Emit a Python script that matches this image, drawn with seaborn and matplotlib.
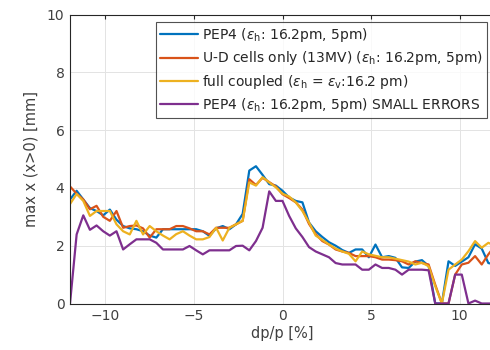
import matplotlib
matplotlib.use("Agg")
import numpy as np
import pandas as pd
import matplotlib.pyplot as plt
import seaborn as sns

# dp/p grid [%]
dpp = [-12 + 0.375 * k for k in range(65)]

pep4 = [3.60, 3.90, 3.60, 3.30, 3.20, 3.05, 3.25, 2.90, 2.68, 2.60,
        2.57, 2.50, 2.35, 2.28, 2.57, 2.57, 2.57, 2.57, 2.57, 2.57,
        2.50, 2.34, 2.60, 2.68, 2.57, 2.74, 3.10, 4.60, 4.75, 4.45,
        4.13, 4.08, 3.90, 3.67, 3.55, 3.50, 2.80, 2.50, 2.30, 2.12,
        2.00, 1.85, 1.75, 1.87, 1.87, 1.60, 2.04, 1.60, 1.64, 1.58,
        1.25, 1.23, 1.45, 1.50, 1.30, 0.00, 0.00, 1.46, 1.30, 1.45,
        1.60, 2.05, 1.90, 1.40, 1.35]

ud_cells = [4.05, 3.80, 3.60, 3.26, 3.38, 3.00, 2.86, 3.20, 2.62, 2.68,
            2.70, 2.60, 2.28, 2.57, 2.57, 2.57, 2.68, 2.68, 2.60, 2.50,
            2.50, 2.39, 2.62, 2.62, 2.62, 2.74, 2.86, 4.30, 4.10, 4.35,
            4.20, 4.05, 3.78, 3.65, 3.50, 3.25, 2.75, 2.40, 2.16, 2.04,
            1.87, 1.80, 1.75, 1.64, 1.64, 1.64, 1.60, 1.52, 1.52, 1.50,
            1.46, 1.35, 1.46, 1.40, 1.35, 0.65, 0.00, 0.00, 1.00, 1.35,
            1.41, 1.64, 1.35, 1.70, 2.00]

full_coupled = [3.44, 3.79, 3.55, 3.03, 3.20, 3.20, 3.20, 2.74, 2.50, 2.39,
                2.86, 2.39, 2.68, 2.50, 2.35, 2.22, 2.40, 2.50, 2.35, 2.22,
                2.22, 2.30, 2.62, 2.18, 2.62, 2.74, 2.86, 4.19, 4.08, 4.37,
                4.19, 4.02, 3.80, 3.70, 3.50, 3.20, 2.80, 2.35, 2.20, 2.04,
                1.90, 1.80, 1.72, 1.46, 1.80, 1.70, 1.65, 1.60, 1.60, 1.55,
                1.50, 1.45, 1.35, 1.41, 1.29, 0.60, 0.00, 1.17, 1.35, 1.52,
                1.81, 2.16, 1.93, 2.10, 2.00]

pep4_small = [0.00, 2.39, 3.05, 2.55, 2.70, 2.50, 2.35, 2.50, 1.87, 2.05,
              2.22, 2.22, 2.22, 2.10, 1.87, 1.87, 1.87, 1.87, 1.99, 1.84,
              1.70, 1.84, 1.84, 1.84, 1.84, 1.99, 2.00, 1.84, 2.16, 2.62,
              3.88, 3.55, 3.55, 3.03, 2.60, 2.30, 1.95, 1.80, 1.70, 1.60,
              1.40, 1.35, 1.35, 1.35, 1.17, 1.17, 1.35, 1.23, 1.23, 1.17,
              1.00, 1.17, 1.17, 1.17, 1.15, 0.00, 0.00, 0.00, 1.00, 1.00,
              0.00, 0.10, 0.00, 0.00, 0.00]

labels = [r"PEP4 ($\epsilon_{\mathrm{h}}$: 16.2pm, 5pm)",
          r"U-D cells only (13MV) ($\epsilon_{\mathrm{h}}$: 16.2pm, 5pm)",
          r"full coupled ($\epsilon_{\mathrm{h}}$ = $\epsilon_{\mathrm{v}}$:16.2 pm)",
          r"PEP4 ($\epsilon_{\mathrm{h}}$: 16.2pm, 5pm) SMALL ERRORS"]
colors = ["#0072BD", "#D95319", "#EDB120", "#7E2F8E"]

TXT = "#404040"
sns.set_style("white")
plt.rcParams.update({
    "font.family": "DejaVu Sans",
    "mathtext.fontset": "dejavusans",
    "axes.edgecolor": "#262626",
    "xtick.color": "#262626",
    "ytick.color": "#262626",
    "xtick.labelcolor": TXT,
    "ytick.labelcolor": TXT,
    "axes.labelcolor": TXT,
})

df = pd.DataFrame({"dpp": dpp * 4,
                   "val": pep4 + ud_cells + full_coupled + pep4_small,
                   "case": sum([[l] * len(dpp) for l in labels], [])})

fig = plt.figure(figsize=(4.9, 3.5), dpi=100)
ax = fig.add_axes([70 / 490, 1 - 303.5 / 350, 425 / 490, 289 / 350])

sns.lineplot(data=df, x="dpp", y="val", hue="case", hue_order=labels,
             palette=colors, estimator=None, sort=False, linewidth=1.6, ax=ax)

ax.set_xlim(-12, 12)
ax.set_ylim(0, 10)
ax.set_xticks([-10, -5, 0, 5, 10])
ax.set_yticks([0, 2, 4, 6, 8, 10])
ax.grid(True, color="#e3e3e3", linewidth=0.7)
ax.tick_params(direction="in", length=3, labelsize=10, top=True, right=True, pad=4)
for s in ax.spines.values():
    s.set_linewidth(0.8)
ax.set_xlabel("dp/p [%]", fontsize=10.5, labelpad=2)
ax.set_ylabel("max x (x>0) [mm]", fontsize=10.5, labelpad=6)

leg = ax.legend(loc="upper right", bbox_to_anchor=(0.982, 0.974), fontsize=10,
                frameon=True, fancybox=False, edgecolor="#262626",
                handlelength=2.7, handletextpad=0.3, borderpad=0.3,
                labelspacing=0.38, borderaxespad=0)
leg.get_frame().set_linewidth(0.8)
for t in leg.get_texts():
    t.set_color("#262626")

fig.savefig("out.png", dpi=100)
